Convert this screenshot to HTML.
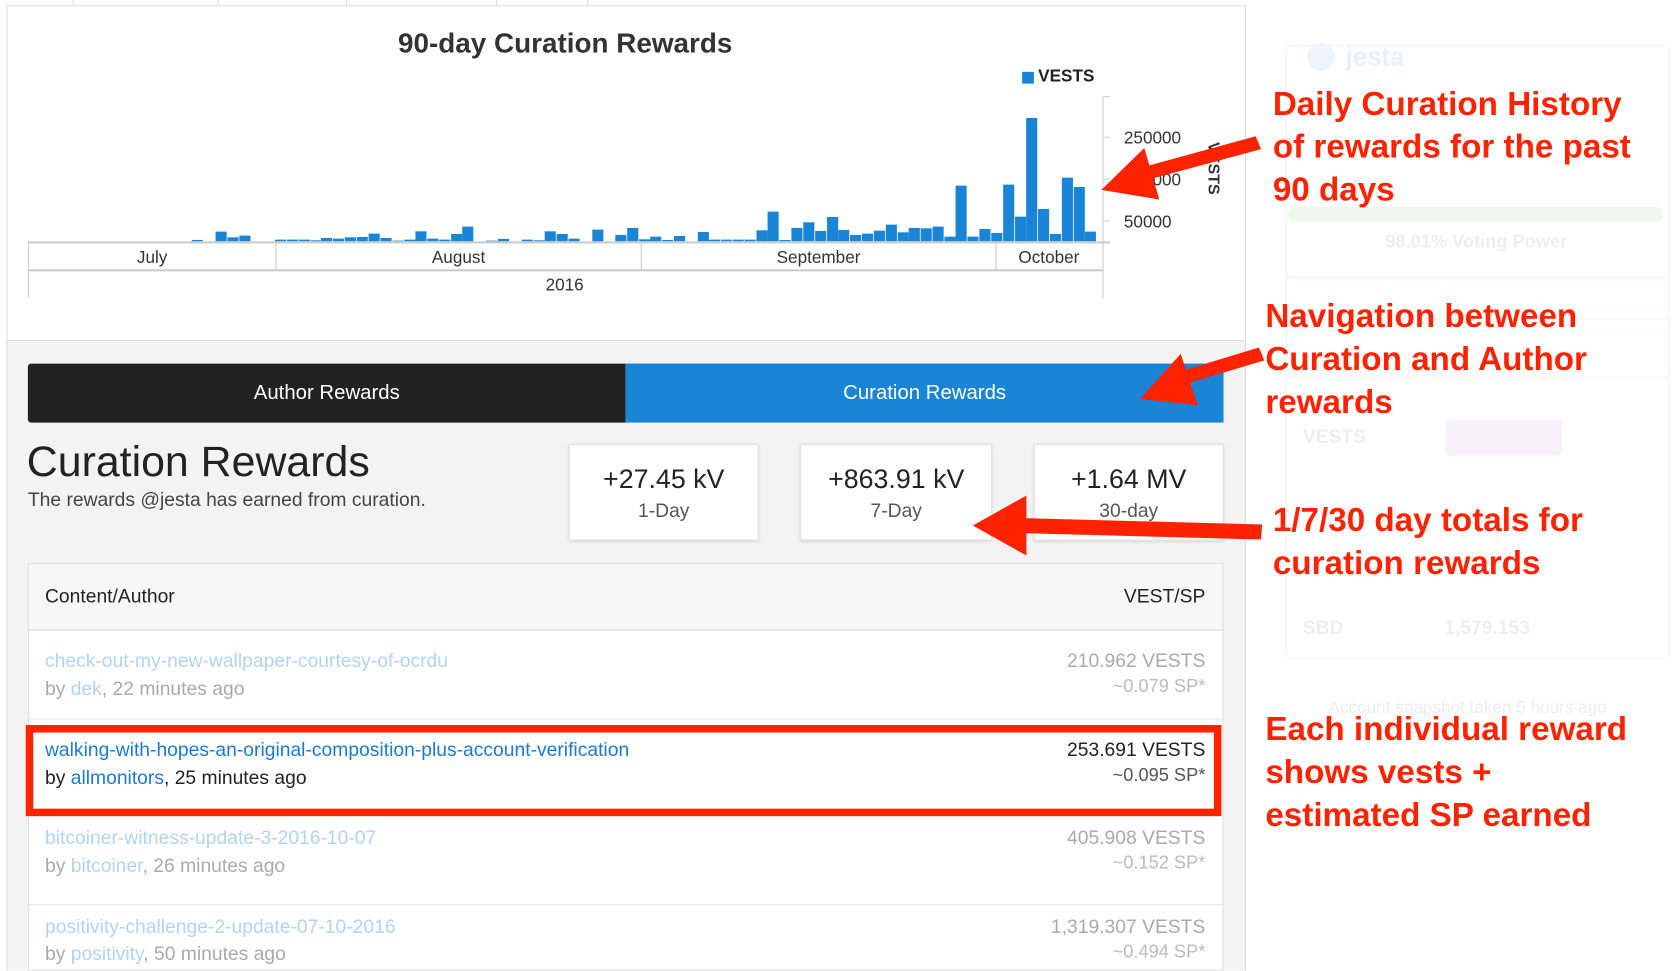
<!DOCTYPE html>
<html><head><meta charset="utf-8"><style>
*{margin:0;padding:0;box-sizing:border-box}
body{width:1680px;height:964px;overflow:hidden;background:#fff;font-family:"Liberation Sans",sans-serif}
#w{position:absolute;left:0;top:0;width:1568px;height:900px;transform:scale(1.0714,1.0725);transform-origin:0 0}
.a{position:absolute;white-space:nowrap}
.red{color:#ff2200;font-weight:bold;font-size:31px;line-height:40px}
.box{background:#fff;border:1px solid #e3e3e3;box-shadow:0 1px 3px rgba(0,0,0,.15);text-align:center}
.box .v{font-size:25px;color:#222;margin-top:18px}
.box .l{font-size:18px;color:#555;margin-top:4px}
.t{font-size:18px}
.fl{color:#b3d3f0}.fg{color:#aaa}
.sb{color:#eee;font-weight:bold}
</style></head><body><div id="w">
<div class="a" style="left:6px;top:5px;width:1157px;height:900px;border:1px solid #ddd;border-bottom:none;background:#f3f3f4"></div>
<div class="a" style="left:7px;top:6px;width:1155px;height:312px;background:#fff;border-bottom:1px solid #ddd"></div>
<div class="a" style="left:68px;top:0;width:1px;height:5px;background:#ddd"></div>
<div class="a" style="left:203px;top:0;width:1px;height:5px;background:#ddd"></div>
<div class="a" style="left:323px;top:0;width:1px;height:5px;background:#ddd"></div>
<div class="a" style="left:463px;top:0;width:1px;height:5px;background:#ddd"></div>
<div class="a" style="left:548px;top:0;width:1px;height:5px;background:#ddd"></div>

<div class="a" style="left:0;top:25px;width:1055px;text-align:center;font-size:26px;font-weight:bold;color:#333">90-day Curation Rewards</div>
<div class="a" style="left:954px;top:67px;width:11px;height:11px;background:#1a85d6"></div>
<div class="a" style="left:969px;top:63px;font-size:16px;font-weight:bold;color:#222">VESTS</div>

<svg class="a" style="left:0;top:0" width="1200" height="320">
<g transform="translate(5,55.6) scale(0.7403,0.3108)" fill="#1a85d6">
<rect x="235" y="541" width="14" height="4"/><rect x="265" y="516" width="14" height="29"/><rect x="280" y="533" width="14" height="12"/><rect x="295" y="528" width="14" height="17"/>
<rect x="340" y="540" width="14" height="5"/><rect x="355" y="540" width="14" height="5"/><rect x="370" y="540" width="14" height="5"/><rect x="385" y="542" width="14" height="3"/><rect x="398" y="535" width="14" height="10"/><rect x="413" y="537" width="14" height="8"/><rect x="428" y="533" width="14" height="12"/><rect x="443" y="532" width="14" height="13"/><rect x="458" y="522" width="14" height="23"/><rect x="473" y="535" width="14" height="10"/><rect x="488" y="543" width="14" height="2"/><rect x="503" y="540" width="14" height="5"/><rect x="517" y="515" width="14" height="30"/><rect x="532" y="537" width="14" height="8"/><rect x="547" y="540" width="14" height="5"/><rect x="562" y="523" width="14" height="22"/><rect x="576" y="501" width="14" height="44"/>
<rect x="606" y="543" width="14" height="2"/><rect x="621" y="538" width="14" height="7"/><rect x="651" y="540" width="14" height="5"/><rect x="666" y="542" width="14" height="3"/><rect x="680" y="515" width="14" height="30"/><rect x="695" y="523" width="14" height="22"/><rect x="710" y="537" width="14" height="8"/><rect x="740" y="510" width="14" height="35"/><rect x="769" y="526" width="14" height="19"/><rect x="784" y="505" width="14" height="40"/><rect x="799" y="539" width="14" height="6"/><rect x="813" y="531" width="14" height="14"/><rect x="828" y="541" width="14" height="4"/><rect x="843" y="529" width="14" height="16"/><rect x="873" y="517" width="14" height="28"/><rect x="887" y="540" width="14" height="5"/><rect x="902" y="540" width="14" height="5"/><rect x="917" y="540" width="14" height="5"/><rect x="932" y="540" width="14" height="5"/><rect x="947" y="512" width="14" height="33"/><rect x="961" y="456" width="14" height="89"/><rect x="976" y="541" width="14" height="4"/><rect x="991" y="505" width="14" height="40"/><rect x="1006" y="488" width="14" height="57"/><rect x="1021" y="514" width="14" height="31"/><rect x="1036" y="472" width="14" height="73"/><rect x="1050" y="511" width="14" height="34"/><rect x="1065" y="526" width="14" height="19"/><rect x="1080" y="522" width="14" height="23"/><rect x="1095" y="513" width="14" height="32"/><rect x="1110" y="495" width="14" height="50"/><rect x="1125" y="518" width="14" height="27"/><rect x="1139" y="505" width="14" height="40"/><rect x="1154" y="506" width="14" height="39"/><rect x="1169" y="501" width="14" height="44"/><rect x="1184" y="531" width="14" height="14"/><rect x="1198" y="378" width="14" height="167"/><rect x="1213" y="531" width="14" height="14"/><rect x="1228" y="508" width="14" height="37"/><rect x="1243" y="520" width="14" height="25"/><rect x="1258" y="375" width="14" height="170"/><rect x="1273" y="471" width="14" height="74"/><rect x="1287" y="175" width="14" height="370"/><rect x="1302" y="448" width="14" height="97"/><rect x="1317" y="523" width="14" height="22"/><rect x="1332" y="354" width="14" height="191"/><rect x="1347" y="382" width="14" height="163"/><rect x="1361" y="516" width="14" height="29"/>
</g>
<g stroke="#ccc" stroke-width="1" fill="none">
<line x1="26" y1="226" x2="1036" y2="226" stroke-width="2"/>
<line x1="26" y1="252" x2="1030" y2="252" stroke-width="2"/>
<line x1="26.5" y1="226" x2="26.5" y2="278"/><line x1="1029.5" y1="90" x2="1029.5" y2="278"/>
<line x1="257.5" y1="226" x2="257.5" y2="252"/><line x1="598.5" y1="226" x2="598.5" y2="252"/><line x1="929.5" y1="226" x2="929.5" y2="252"/>
<line x1="1030" y1="90" x2="1036" y2="90"/><line x1="1030" y1="128" x2="1036" y2="128"/><line x1="1030" y1="167" x2="1036" y2="167"/><line x1="1030" y1="206" x2="1036" y2="206"/>
</g>
<g font-family="Liberation Sans" font-size="16" fill="#333">
<text x="142" y="245" text-anchor="middle">July</text><text x="428" y="245" text-anchor="middle">August</text><text x="764" y="245" text-anchor="middle">September</text><text x="979" y="245" text-anchor="middle">October</text>
<text x="527" y="271" text-anchor="middle">2016</text>
<text x="1049" y="134">250000</text><text x="1049" y="173">150000</text><text x="1049" y="212">50000</text>
<text transform="translate(1128,157) rotate(90)" text-anchor="middle" font-weight="bold" font-size="15">VESTS</text>
</g>
</svg>

<div class="a" style="left:26px;top:339px;width:558px;height:55px;background:#222;color:#fff;font-size:19px;text-align:center;line-height:55px;border-radius:3px 0 0 3px">Author Rewards</div>
<div class="a" style="left:584px;top:339px;width:558px;height:55px;background:#1a85d6;color:#fff;font-size:19px;text-align:center;line-height:55px">Curation Rewards</div>

<div class="a" style="left:25px;top:409px;font-size:40px;color:#222">Curation Rewards</div>
<div class="a" style="left:26px;top:456px;font-size:18px;color:#444">The rewards @jesta has earned from curation.</div>

<div class="a box" style="left:531px;top:414px;width:177px;height:90px"><div class="v">+27.45 kV</div><div class="l">1-Day</div></div>
<div class="a box" style="left:747px;top:414px;width:179px;height:90px"><div class="v">+863.91 kV</div><div class="l">7-Day</div></div>
<div class="a box" style="left:965px;top:414px;width:177px;height:90px"><div class="v">+1.64 MV</div><div class="l">30-day</div></div>

<div class="a" style="left:26px;top:525px;width:1116px;height:380px;background:#fff;border:1px solid #ddd"></div>
<div class="a" style="left:27px;top:526px;width:1114px;height:62px;background:#f7f7f7;border-bottom:1px solid #ddd"></div>
<div class="a t" style="left:42px;top:546px;color:#222">Content/Author</div>
<div class="a t" style="left:1000px;width:125px;text-align:right;top:546px;color:#222">VEST/SP</div>

<div class="a t fl" style="left:42px;top:606px">check-out-my-new-wallpaper-courtesy-of-ocrdu</div>
<div class="a t fg" style="left:42px;top:632px">by <span class="fl">dek</span>, 22 minutes ago</div>
<div class="a t fg" style="left:900px;width:225px;text-align:right;top:606px">210.962 VESTS</div>
<div class="a fg" style="left:900px;width:225px;text-align:right;top:630px;font-size:17px;color:#bbb">~0.079 SP*</div>
<div class="a" style="left:27px;top:670px;width:1114px;height:1px;background:#e5e5e5"></div>

<div class="a" style="left:24px;top:676px;width:1116px;height:85px;border:7px solid #ff2200"></div>
<div class="a t" style="left:42px;top:689px;color:#1a7bd0">walking-with-hopes-an-original-composition-plus-account-verification</div>
<div class="a t" style="left:42px;top:715px;color:#222">by <span style="color:#1a7bd0">allmonitors</span>, 25 minutes ago</div>
<div class="a t" style="left:900px;width:225px;text-align:right;top:689px;color:#222">253.691 VESTS</div>
<div class="a" style="left:900px;width:225px;text-align:right;top:713px;font-size:17px;color:#555">~0.095 SP*</div>

<div class="a t fl" style="left:42px;top:771px">bitcoiner-witness-update-3-2016-10-07</div>
<div class="a t fg" style="left:42px;top:797px">by <span class="fl">bitcoiner</span>, 26 minutes ago</div>
<div class="a t fg" style="left:900px;width:225px;text-align:right;top:771px">405.908 VESTS</div>
<div class="a" style="left:900px;width:225px;text-align:right;top:795px;font-size:17px;color:#bbb">~0.152 SP*</div>
<div class="a" style="left:27px;top:843px;width:1114px;height:1px;background:#e5e5e5"></div>

<div class="a t fl" style="left:42px;top:854px">positivity-challenge-2-update-07-10-2016</div>
<div class="a t fg" style="left:42px;top:879px">by <span class="fl">positivity</span>, 50 minutes ago</div>
<div class="a t fg" style="left:900px;width:225px;text-align:right;top:854px">1,319.307 VESTS</div>
<div class="a" style="left:900px;width:225px;text-align:right;top:878px;font-size:17px;color:#bbb">~0.494 SP*</div>

<div class="a" style="left:1200px;top:42px;width:358px;height:572px;border:1px solid #f4f4f4;border-radius:4px"></div>
<div class="a" style="left:1220px;top:40px;width:26px;height:26px;border-radius:13px;background:#eef4fb"></div>
<div class="a sb" style="left:1256px;top:40px;font-size:24px;color:#e8f0fa">jesta</div>
<div class="a" style="left:1202px;top:193px;width:350px;height:14px;background:#eef8ee;border-radius:6px"></div>
<div class="a sb" style="left:1293px;top:216px;font-size:17px">98.01% Voting Power</div>
<div class="a" style="left:1200px;top:258px;width:358px;height:40px;border:1px solid #f0f6fb;border-radius:4px"></div>
<div class="a" style="left:1200px;top:308px;width:358px;height:44px;border:1px solid #f0f6fb;border-radius:4px"></div>
<div class="a" style="left:1350px;top:391px;width:108px;height:34px;background:#f7f0fb;border-radius:4px"></div>
<div class="a sb" style="left:1216px;top:397px;font-size:18px">VESTS</div>
<div class="a sb" style="left:1216px;top:575px;font-size:18px">SBD</div>
<div class="a sb" style="left:1348px;top:575px;font-size:18px">1,579.153</div>
<div class="a" style="left:1240px;top:652px;font-size:16px;color:#eee">Account snapshot taken 5 hours ago</div>

<div class="a red" style="left:1188px;top:77px">Daily Curation History<br>of rewards for the past<br>90 days</div>
<div class="a red" style="left:1181px;top:275px">Navigation between<br>Curation and Author<br>rewards</div>
<div class="a red" style="left:1188px;top:465px">1/7/30 day totals for<br>curation rewards</div>
<div class="a red" style="left:1181px;top:660px">Each individual reward<br>shows vests +<br>estimated SP earned</div>

<svg class="a" style="left:0;top:0" width="1568" height="900">
<g fill="#ff2200">
<polygon points="1172,127 1177,139 1070,168 1066,156"/>
<polygon points="1028,177 1068,138 1082,186"/>
<polygon points="1175,324 1180,336 1100,360 1096,348"/>
<polygon points="1064,372 1102,330 1118,378"/>
<polygon points="1178,489 1177,503 950,497 951,483"/>
<polygon points="908,490 958,462 958,518"/>
</g>
</svg>
</div></body></html>
